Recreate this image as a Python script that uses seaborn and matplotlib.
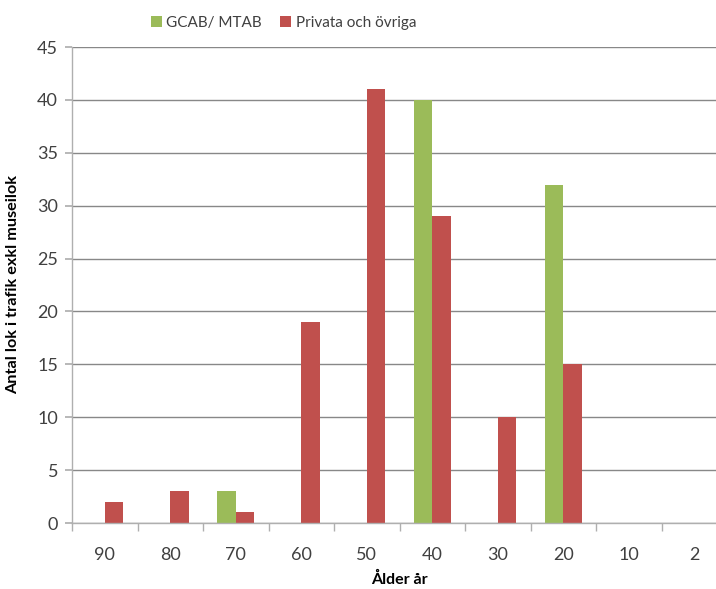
import matplotlib
matplotlib.use("Agg")
import matplotlib.pyplot as plt
import seaborn as sns
import pandas as pd

categories = ["90", "80", "70", "60", "50", "40", "30", "20", "10", "2"]
gcab_mtab = [0, 0, 3, 0, 0, 40, 0, 32, 0, 0]
privata = [2, 3, 1, 19, 41, 29, 10, 15, 0, 0]
series_names = ["GCAB/ MTAB", "Privata och övriga"]
colors = ["#9BBB59", "#C0504D"]

df = pd.DataFrame({
    "cat": categories * 2,
    "val": gcab_mtab + privata,
    "serie": [series_names[0]] * len(categories) + [series_names[1]] * len(categories),
})

sns.set_theme(style="white")
plt.rcParams["font.family"] = ["Lato", "DejaVu Sans"]

fig = plt.figure(figsize=(7.16, 5.89), dpi=100)
W, H = 716, 589
ax = fig.add_axes([72 / W, 1 - 523 / H, 655 / W, (523 - 47) / H])

sns.barplot(data=df, x="cat", y="val", hue="serie", order=categories,
            hue_order=series_names, palette=colors, width=0.57, gap=0,
            saturation=1, linewidth=0, ax=ax, legend=True)

ax.set_ylim(0, 45)
ax.set_yticks(range(0, 46, 5))
ax.set_xlim(-0.5, len(categories) - 0.5)
ax.yaxis.grid(True, color="#888888", linewidth=1)
ax.set_axisbelow(True)
for s in ["top", "right"]:
    ax.spines[s].set_visible(False)
for s in ["left", "bottom"]:
    ax.spines[s].set_color("#AFAFAF")
    ax.spines[s].set_linewidth(1)

ax.tick_params(axis="y", left=True, length=5, color="#AFAFAF", labelsize=13,
               labelcolor="#404040", pad=5)
ax.set_xticks([i - 0.5 for i in range(len(categories) + 1)], minor=True)
ax.set_xticks(range(len(categories)))
ax.set_xticklabels(categories)
ax.tick_params(axis="x", which="major", bottom=False, labelsize=13,
               labelcolor="#404040", pad=11)
ax.tick_params(axis="x", which="minor", bottom=True, length=6, color="#AFAFAF")

ax.set_xlabel("Ålder år", fontsize=11.5, fontweight="bold", color="black", labelpad=7)
ax.set_ylabel("Antal lok i trafik exkl museilok", fontsize=11.7, fontweight="bold",
              color="black", labelpad=12)

leg = ax.legend(loc="upper center", bbox_to_anchor=((283.5 - 72) / 655, 1 + 37 / 476),
                ncol=2, frameon=False, fontsize=11,
                handlelength=0.7, handleheight=0.7, handletextpad=0.3,
                columnspacing=1.2, borderaxespad=0)
for t in leg.get_texts():
    t.set_color("#404040")

fig.savefig("out.png", dpi=100)
